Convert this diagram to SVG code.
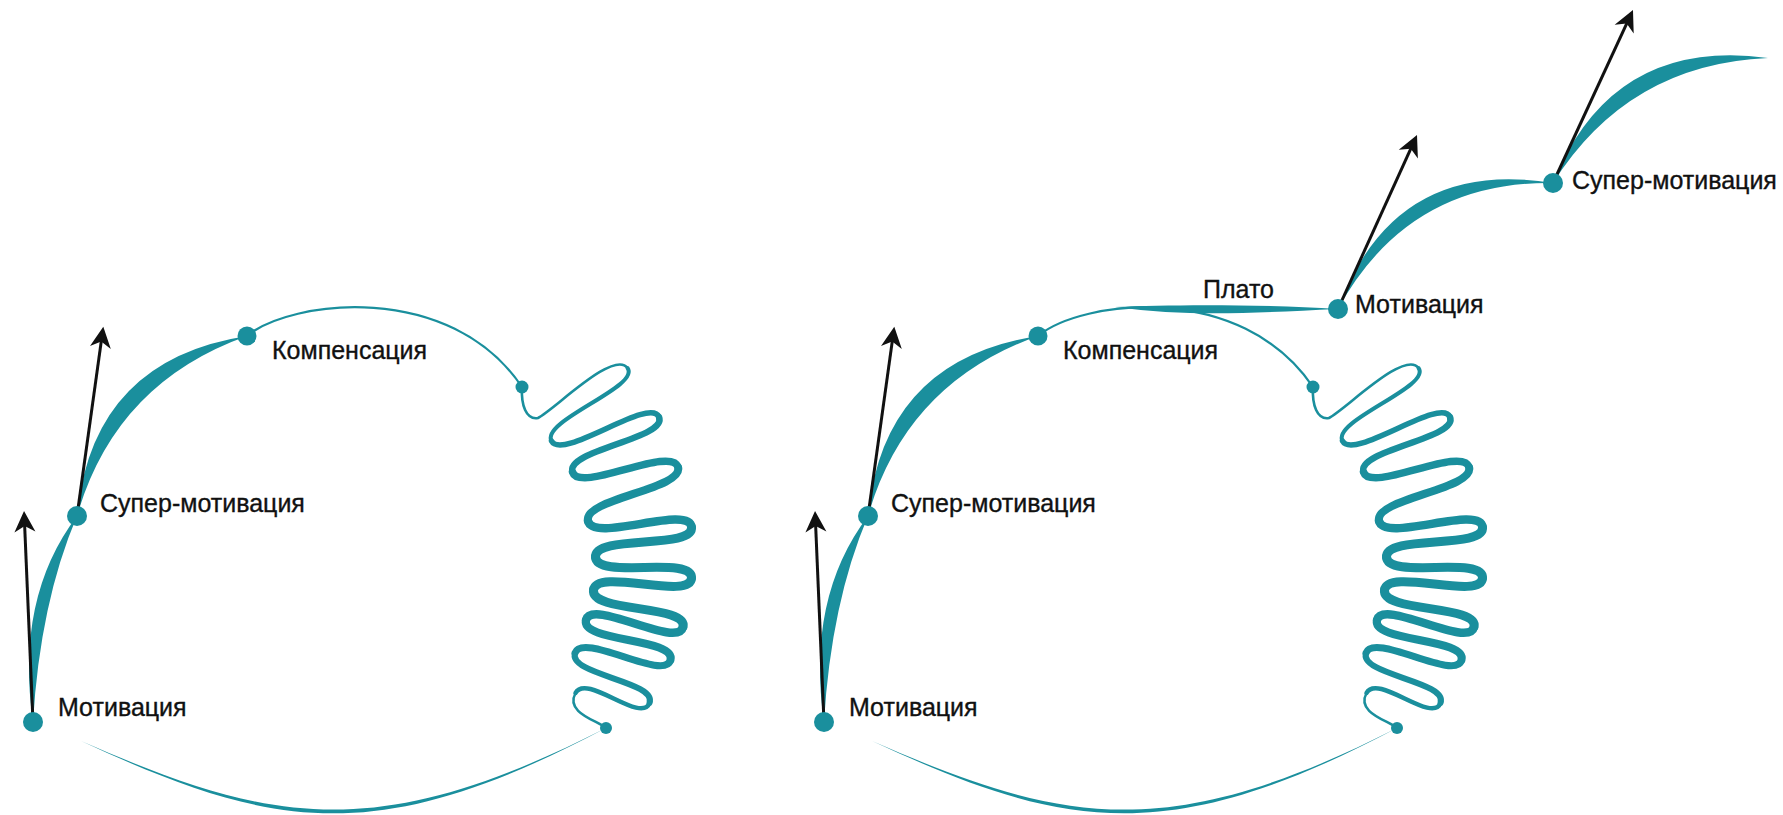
<svg xmlns="http://www.w3.org/2000/svg" xmlns:xlink="http://www.w3.org/1999/xlink" width="1783" height="815" viewBox="0 0 1783 815">
<style>
.t{fill:#1a8f9d}
.ln{fill:none;stroke:#1a8f9d;stroke-linecap:round;stroke-linejoin:round}
.arr{fill:none;stroke:#111;stroke-width:3;marker-end:url(#ah)}
.lbl{font-family:"Liberation Sans",Arial,sans-serif;font-size:25px;fill:#111;stroke:#111;stroke-width:0.35}
</style>
<defs>
<marker id="ah" markerUnits="userSpaceOnUse" viewBox="-20 -12 26 24" markerWidth="26" markerHeight="24" refX="0" refY="0" orient="auto">
<path d="M4,0 L-17,-10.5 L-11,0 L-17,10.5 Z" fill="#111"/>
</marker>
<g id="spiral">
<path class="ln" stroke-width="2.6" d="M522,387 C521,405 526,420 538,418 C555.6,408.5 614,349.4 627.5,368"/>
<path class="ln" stroke-width="4" d="M627.5,368 C641,386.6 540.6,420.7 551.5,441"/>
<path class="ln" stroke-width="5.5" d="M551.5,441 C562.4,461.3 650.2,395.7 659,417"/>
<path class="ln" stroke-width="6.5" d="M659,417 C667.8,438.3 565.6,450.1 572.5,472"/>
<path class="ln" stroke-width="7.5" d="M572.5,472 C579.4,493.9 671.3,445 678,467"/>
<path class="ln" stroke-width="8" d="M678,467 C684.7,489 582.5,498.7 588,521"/>
<path class="ln" stroke-width="8.5" d="M588,521 C593.5,543.3 688.7,504.2 691.5,527"/>
<path class="ln" stroke-width="9" d="M691.5,527 C694.3,549.8 594.5,534 595.5,557"/>
<path class="ln" stroke-width="9" d="M595.5,557 C596.5,580 692.6,555 691.5,578"/>
<path class="ln" stroke-width="9" d="M691.5,578 C690.4,601 596.6,567.2 593.5,590"/>
<path class="ln" stroke-width="9" d="M593.5,590 C590.4,612.8 688.3,604.6 683,627"/>
<path class="ln" stroke-width="8.5" d="M683,627 C677.7,649.4 591.8,597.8 586,620"/>
<path class="ln" stroke-width="8" d="M586,620 C580.2,642.2 676.3,637.8 670.5,660"/>
<path class="ln" stroke-width="7" d="M670.5,660 C664.7,682.2 582.5,631.3 575,653"/>
<path class="ln" stroke-width="6" d="M575,653 C567.5,674.7 657.7,681.5 649.5,703"/>
<path class="ln" stroke-width="4.5" d="M649.5,703 C641.3,724.5 586.4,672.7 575.5,693"/>
<path class="ln" stroke-width="2.5" d="M575.5,693 C564.6,713.3 599,721 606,728"/>
</g>
<path id="crA" class="t" d="M33,722 Q15,598 77,516 Q40,603 33,722 Z"/>
<path id="crB" class="t" d="M77,516 Q92,360 247,336 Q115,383 77,516 Z"/>
<path id="toparc" class="ln" stroke-width="2.2" d="M247,336 C290,300 450,280 522,387"/>
<path id="botarc" class="t" d="M81,741 C271,829 376,850.1 606,728 C376,845.1 271,824 81,741 Z"/>
</defs>

<g id="connectors">
<use href="#crA" xlink:href="#crA"/>
<use href="#crB" xlink:href="#crB"/>
<use href="#toparc" xlink:href="#toparc"/>
<use href="#botarc" xlink:href="#botarc"/>
<use href="#spiral" xlink:href="#spiral"/>
<use href="#crA" xlink:href="#crA" x="791"/>
<use href="#crB" xlink:href="#crB" x="791"/>
<use href="#toparc" xlink:href="#toparc" x="791"/>
<use href="#botarc" xlink:href="#botarc" x="791"/>
<use href="#spiral" xlink:href="#spiral" x="791"/>
<path id="plateau" class="t" d="M1115,307 C1170,304.5 1260,304 1338,309 C1250,313 1190,317 1115,307 Z"/>
<path id="crC" class="t" d="M1338,309 Q1394,157 1553,183 Q1408,181 1338,309 Z"/>
<path id="crD" class="t" d="M1553,183 Q1612,37 1768,58 Q1628,64 1553,183 Z"/>
<line class="arr" x1="33" y1="722" x2="24.2" y2="515"/>
<line class="arr" x1="77" y1="516" x2="102.75" y2="330.66"/>
<line class="arr" x1="824" y1="722" x2="815.2" y2="515"/>
<line class="arr" x1="868" y1="516" x2="893.75" y2="330.66"/>
<line class="arr" x1="1338" y1="309" x2="1415.35" y2="138.64"/>
<line class="arr" x1="1553" y1="183" x2="1631.3" y2="13.6"/>
</g>

<g id="n-l-motivation"><circle class="t" cx="33" cy="722" r="10"/><text class="lbl" x="58" y="716">Мотивация</text></g>
<g id="n-l-super"><circle class="t" cx="77" cy="516" r="10"/><text class="lbl" x="100" y="512">Супер-мотивация</text></g>
<g id="n-l-comp"><circle class="t" cx="247" cy="336" r="9.5"/><text class="lbl" x="272" y="359">Компенсация</text></g>
<g id="n-l-in"><circle class="t" cx="522" cy="387" r="6.5"/></g>
<g id="n-l-out"><circle class="t" cx="606" cy="728" r="6"/></g>

<g id="n-r-motivation"><circle class="t" cx="824" cy="722" r="10"/><text class="lbl" x="849" y="716">Мотивация</text></g>
<g id="n-r-super"><circle class="t" cx="868" cy="516" r="10"/><text class="lbl" x="891" y="512">Супер-мотивация</text></g>
<g id="n-r-comp"><circle class="t" cx="1038" cy="336" r="9.5"/><text class="lbl" x="1063" y="359">Компенсация</text></g>
<g id="n-r-in"><circle class="t" cx="1313" cy="387" r="6.5"/></g>
<g id="n-r-out"><circle class="t" cx="1397" cy="728" r="6"/></g>
<g id="n-plateau"><text class="lbl" x="1203" y="298">Плато</text></g>
<g id="n-r-motivation2"><circle class="t" cx="1338" cy="309" r="10"/><text class="lbl" x="1355" y="313">Мотивация</text></g>
<g id="n-r-super2"><circle class="t" cx="1553" cy="183" r="10"/><text class="lbl" x="1572" y="189">Супер-мотивация</text></g>
</svg>
